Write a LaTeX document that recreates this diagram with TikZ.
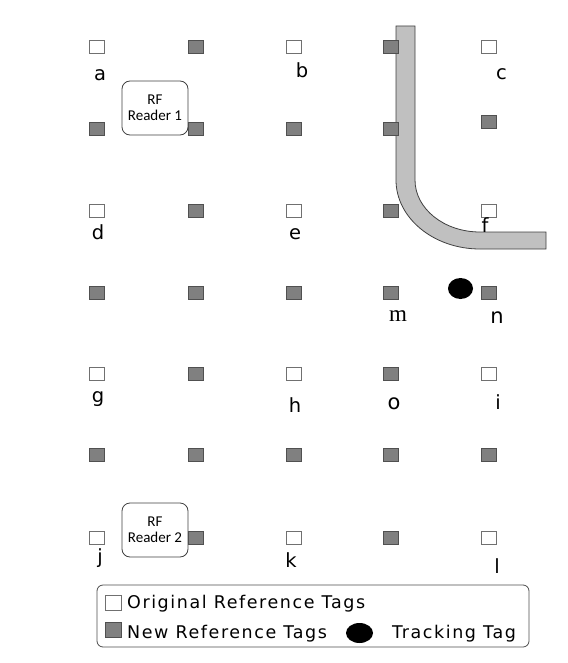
\documentclass[tikz,border=0pt]{standalone}
\usepackage{fontspec}
\usetikzlibrary{shapes.geometric}
\setmainfont{DejaVu Sans}
\newfontfamily\carlito{Carlito}
\newfontfamily\serifm{Liberation Serif}
\newfontfamily\legfont[LetterSpace=9]{DejaVu Sans}
\definecolor{tagfill}{HTML}{808080}
\definecolor{tagedge}{HTML}{505050}
\definecolor{wedge}{HTML}{707070}
\definecolor{pipefill}{HTML}{C0C0C0}
\begin{document}
\begin{tikzpicture}[x=1pt,y=-1pt,
  wsq/.style={draw=wedge,fill=white,line width=0.9pt,minimum width=15pt,minimum height=13pt,inner sep=0pt},
  gsq/.style={draw=tagedge,fill=tagfill,line width=0.9pt,minimum width=15pt,minimum height=13pt,inner sep=0pt},
  lbl/.style={anchor=base,inner sep=0pt,font=\fontsize{19.5}{22}\selectfont},
  reader/.style={draw=black!75,fill=white,rounded corners=8pt,line width=0.8pt,minimum width=66pt,minimum height=54pt,align=center,font=\carlito\fontsize{15}{16}\selectfont,inner sep=0pt},
  legtext/.style={anchor=base west,inner sep=0pt,font=\legfont\fontsize{17.5}{20}\selectfont}]
\useasboundingbox (0,0) rectangle (567,663);
% pipe
\draw[draw=black!75,fill=pipefill,line width=0.8pt]
  (396,26) -- (396,180) .. controls (396,218) and (433.6,249) .. (480,249)
  -- (546,249) -- (546,232) -- (480,232)
  .. controls (444,232) and (415,208.7) .. (415,180) -- (415,26) -- cycle;
% readers
\node[reader] (r1) at (155,108) {RF\\Reader 1};
\node[reader] (r2) at (155,530) {RF\\Reader 2};
% tags
\foreach \r/\y in {1/47,2/129,3/210.5,4/292.5,5/374,6/455,7/537.5}{
  \foreach \c/\x in {1/97,2/195.5,3/293.5,4/391,5/488.5}{
    \pgfmathtruncatemacro{\odd}{and(mod(\r,2)==1,mod(\c,2)==1)}
    \ifnum\odd=1
      \node[wsq] (s\r\c) at (\x,\y) {};
    \else
      \ifnum\r=2 \ifnum\c=5
        \node[gsq] (s\r\c) at (\x,122) {};
      \else
        \node[gsq] (s\r\c) at (\x,\y) {};
      \fi\else
        \node[gsq] (s\r\c) at (\x,\y) {};
      \fi
    \fi
  }
}
% tracking tag
\node[fill=black,ellipse,minimum width=25pt,minimum height=21pt,inner sep=0pt] (tt) at (460.5,288.5) {};
% labels
\node[lbl] (la) at (100,81) {a};
\node[lbl] (lb) at (302,78) {b};
\node[lbl] (lc) at (501.5,80) {c};
\node[lbl] (ld) at (98,239) {d};
\node[lbl] (le) at (295,239) {e};
\node[lbl] (lf) at (485,232) {f};
\node[lbl,font=\serifm\fontsize{23}{24}\selectfont] (lm) at (398,321) {m};
\node[lbl,font=\fontsize{21}{22}\selectfont] (ln) at (497,323) {n};
\node[lbl] (lg) at (98,402) {g};
\node[lbl] (lh) at (295,412) {h};
\node[lbl,font=\fontsize{21}{22}\selectfont] (lo) at (394,409) {o};
\node[lbl] (li) at (498,409) {i};
\node[lbl] (lj) at (100,563) {j};
\node[lbl] (lk) at (291,567) {k};
\node[lbl] (ll) at (497,573) {l};
% legend
\draw[draw=black!70,line width=0.8pt,rounded corners=6pt] (97,585) rectangle (529,647);
\node[wsq,minimum width=16pt,minimum height=15pt] (legw) at (113.5,602.5) {};
\node[gsq,minimum width=16pt,minimum height=15pt] (legg) at (113.5,629.5) {};
\node[fill=black,ellipse,minimum width=27pt,minimum height=20pt,inner sep=0pt] (legt) at (359.5,633) {};
\node[legtext] (t1) at (127,608) {Original Reference Tags};
\node[legtext] (t2) at (127,638) {New Reference Tags};
\node[legtext] (t3) at (392,638) {Tracking Tag};
\end{tikzpicture}
\end{document}
